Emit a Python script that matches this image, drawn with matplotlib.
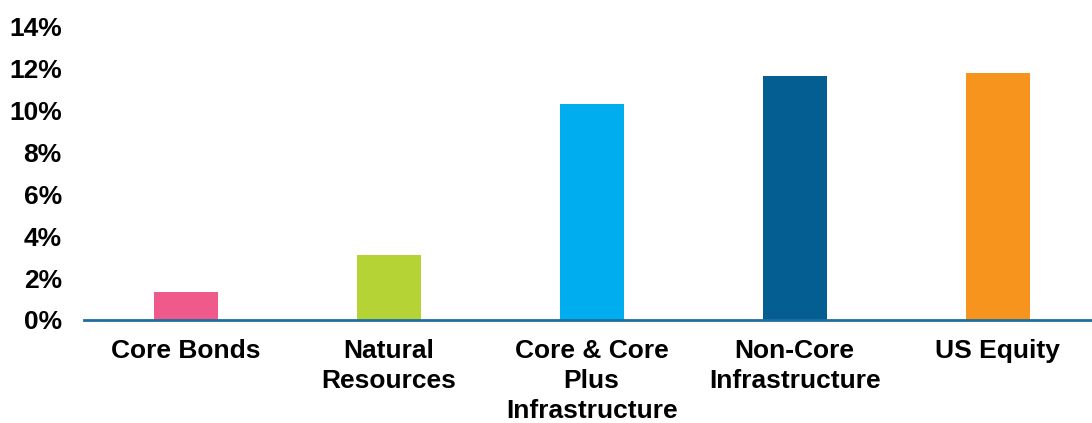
import numpy as np
import matplotlib.pyplot as plt
from matplotlib.ticker import FuncFormatter

# DATA
categories = ['Core Bonds', 'Natural\nResources', 'Core & Core\nPlus\nInfrastructure',
              'Non-Core\nInfrastructure', 'US Equity']
values = [1.35, 3.1, 10.3, 11.6, 11.75]
colors = ['#EF5A8A', '#B5D334', '#00AEEF', '#045E92', '#F7941D']

plt.rcParams['font.family'] = ['Liberation Sans', 'DejaVu Sans']
plt.rcParams['font.weight'] = 'bold'

fig = plt.figure(figsize=(10.92, 4.23), dpi=100)
ax = fig.add_axes([0.077, 0.2435, 0.9295, 0.695])

x = np.arange(len(categories))
ax.bar(x, values, width=0.315, color=colors, zorder=2)

ax.set_xlim(-0.5, len(categories) - 0.5)
ax.set_ylim(0, 14)
ax.set_yticks(np.arange(0, 15, 2))
ax.yaxis.set_major_formatter(FuncFormatter(lambda v, p: '{:.0f}%'.format(v)))
ax.set_xticks(x)
ax.set_xticklabels(categories, linespacing=1.3)

for s in ['top', 'right', 'left']:
    ax.spines[s].set_visible(False)
ax.spines['bottom'].set_color('#1F6E9E')
ax.spines['bottom'].set_linewidth(2)
ax.spines['bottom'].set_zorder(3)

ax.tick_params(axis='both', length=0, labelsize=19)
ax.tick_params(axis='x', pad=14)
ax.tick_params(axis='y', pad=16)

fig.savefig('out.png', dpi=100)
